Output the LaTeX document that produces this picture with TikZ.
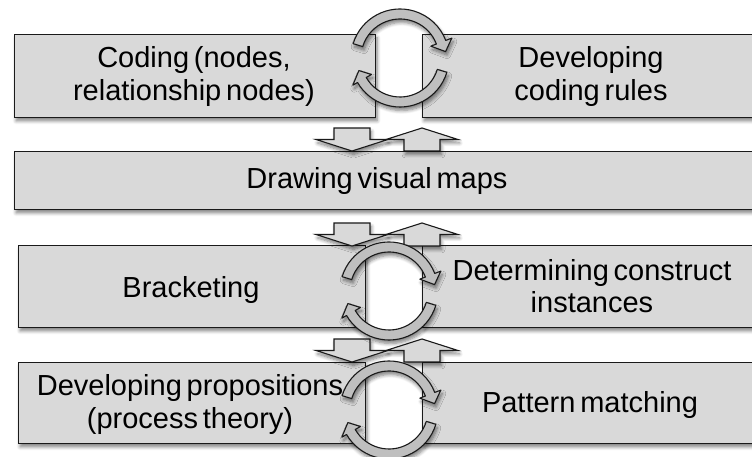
\documentclass[tikz,border=0pt]{standalone}
\usepackage{fontspec}
\setmainfont{Liberation Sans}[WordSpace=0.6]
\usetikzlibrary{shadows.blur}

\definecolor{boxgray}{HTML}{D9D9D9}
\definecolor{arcgray}{HTML}{BFBFBF}
\definecolor{edgeink}{HTML}{1A1A1A}

\begin{document}
\begin{tikzpicture}[x=1pt,y=1pt,
  softshadow/.style={blur shadow={shadow xshift=1.5pt, shadow yshift=-3.5pt,
      shadow blur radius=3.5pt, shadow blur steps=6, shadow opacity=50}},
  stagebox/.style={draw=edgeink, line width=1.3pt, fill=boxgray, rectangle,
      inner sep=0pt, anchor=south west, softshadow},
  stagetext/.style={inner sep=0pt, align=center,
      font=\fontsize{29}{32.5}\selectfont},
  blockarrow/.style={draw=edgeink, line width=1.1pt, fill=boxgray, softshadow,
      line join=miter},
  turnarrow/.style={draw=edgeink, line width=1.1pt, fill=arcgray, softshadow,
      line join=round},
  % block arrow pointing down, origin at its tip
  pics/downblk/.style={code={
    \path[blockarrow] (0,0) -- (36,11.5) -- (18,11.5) -- (18,23) -- (-18,23)
      -- (-18,11.5) -- (-36,11.5) -- cycle;}},
  % block arrow pointing up, origin at its tip
  pics/upblk/.style={code={
    \path[blockarrow] (0,0) -- (36,-11.5) -- (18,-11.5) -- (18,-23) -- (-18,-23)
      -- (-18,-11.5) -- (-36,-11.5) -- cycle;}},
  % pair of curved arrows running clockwise round the origin
  pics/turnpair/.style={code={
    \path[turnarrow] (163:49) arc[start angle=163, end angle=21, radius=49]
      -- (21:55.5) -- (8:46) -- (21:33) -- (21:39)
      arc[start angle=21, end angle=163, radius=39] -- cycle;
    \path[turnarrow] (-17:49) arc[start angle=-17, end angle=-150, radius=49]
      -- (-150:54.5) -- (-163:43) -- (-150:33) -- (-150:39)
      arc[start angle=-150, end angle=-17, radius=39] -- cycle;}}
]
\useasboundingbox (0,0) rectangle (752,457);

% stage boxes
\node[stagebox, minimum width=361, minimum height=83] (b1l) at (14,339) {};
\node[stagebox, minimum width=338, minimum height=83] (b1r) at (422,339) {};
\node[stagebox, minimum width=746, minimum height=58] (b2)  at (14,247) {};
\node[stagebox, minimum width=347, minimum height=82] (b3l) at (18,129) {};
\node[stagebox, minimum width=338, minimum height=82] (b3r) at (422,129) {};
\node[stagebox, minimum width=347, minimum height=81] (b4l) at (18,13) {};
\node[stagebox, minimum width=338, minimum height=81] (b4r) at (422,13) {};

% stage labels
\node[stagetext] (t1l) at (194,380.5) {Coding (nodes,\\relationship nodes)};
\node[stagetext] (t1r) at (591,380.5) {Developing\\coding rules};
\node[stagetext] (t2)  at (377,276)   {Drawing visual maps};
\node[stagetext] (t3l) at (191,167)   {Bracketing};
\node[stagetext] (t3r) at (592,171)   {Determining construct\\instances};
\node[stagetext] (t4l) at (190,52.5)  {Developing propositions\\(process theory)};
\node[stagetext] (t4r) at (590,51.5)  {Pattern matching};

% block arrows between the stages
\pic at (352,306) {downblk};
\pic at (422,329) {upblk};
\pic at (352,211) {downblk};
\pic at (422,234) {upblk};
\pic at (352,95)  {downblk};
\pic at (422,118) {upblk};

% curved arrows between paired stages
\pic at (400,399) {turnpair};
\pic at (389,166) {turnpair};
\pic at (389,47)  {turnpair};
\end{tikzpicture}
\end{document}
